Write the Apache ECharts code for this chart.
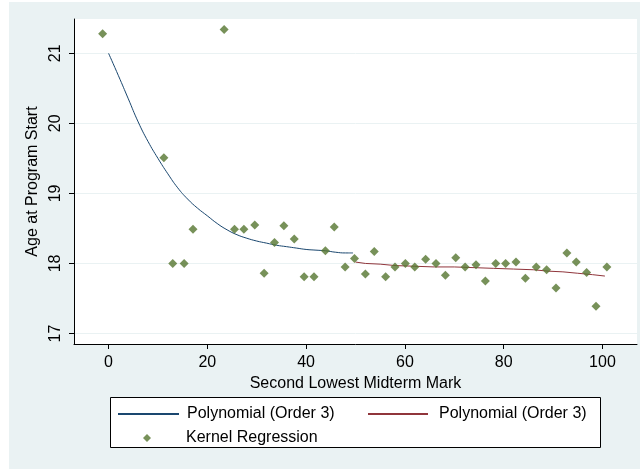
<!DOCTYPE html>
<html>
<head>
<meta charset="utf-8">
<script src="https://cdn.jsdelivr.net/npm/echarts@6/dist/echarts.min.js"></script>
<style>
  html, body { margin: 0; padding: 0; background: #ffffff; }
  #wrap { position: relative; width: 640px; height: 469px; background: #ffffff; }
  #bg { position: absolute; left: 9px; top: 2px; width: 631px; height: 467px; background: #eaf2f3; }
  #chart { position: absolute; left: 0; top: 0; width: 640px; height: 469px; }
</style>
</head>
<body>
<div id="wrap"><div id="bg"></div><div id="chart"></div></div>
<script>
// ---- data ----
const xTicks = [0, 20, 40, 60, 80, 100];
const yTicks = [17, 18, 19, 20, 21];

const kernelX = [-1.2, 11.2, 13.0, 15.3, 17.1, 23.4, 25.5, 27.4, 29.6, 31.5, 33.6, 35.5, 37.6, 39.6, 41.6,
  43.9, 45.7, 47.9, 49.8, 52.0, 53.8, 56.1, 58.0, 60.1, 62.0, 64.2, 66.3, 68.2, 70.3, 72.2, 74.4, 76.3,
  78.4, 80.4, 82.5, 84.4, 86.6, 88.7, 90.6, 92.8, 94.7, 96.8, 98.7, 100.9];
const kernelY = [21.28, 19.51, 18.00, 18.00, 18.49, 21.34, 18.49, 18.49, 18.55, 17.86, 18.30, 18.54, 18.35, 17.81, 17.81,
  18.18, 18.52, 17.95, 18.07, 17.85, 18.17, 17.81, 17.95, 18.00, 17.95, 18.06, 18.00, 17.83, 18.08, 17.95, 17.98, 17.75,
  18.00, 18.00, 18.02, 17.79, 17.95, 17.91, 17.65, 18.15, 18.02, 17.87, 17.39, 17.95];

const polyLowX = [0, 2, 4, 6, 8, 10, 12, 14, 16, 18, 20, 22, 24, 26, 28, 30, 32, 34, 36, 38, 40, 42, 44, 46, 48, 49.5];
const polyLowY = [21.0, 20.68, 20.35, 20.02, 19.74, 19.50, 19.28, 19.08, 18.92, 18.79, 18.68, 18.57, 18.48, 18.41, 18.36,
  18.32, 18.29, 18.26, 18.24, 18.22, 18.20, 18.19, 18.18, 18.16, 18.15, 18.15];

const polyHighX = [50, 52, 55, 58, 62, 66, 70, 74, 78, 82, 86, 89, 92, 95, 98, 100.5];
const polyHighY = [18.02, 18.00, 17.99, 17.97, 17.96, 17.95, 17.95, 17.94, 17.93, 17.92, 17.91, 17.89, 17.88, 17.86, 17.84, 17.82];

const legendLabel = 'Polynomial (Order 3)';
const kernelLabel = 'Kernel Regression';
const xName = 'Second Lowest Midterm Mark';
const yName = 'Age at Program Start';

// ---- chart ----
const zip = (xs, ys) => xs.map((x, i) => [x, ys[i]]);
const FONT = "'Liberation Sans', Arial, sans-serif";
const chart = echarts.init(document.getElementById('chart'), null, { renderer: 'canvas' });

const legendText = { fontFamily: FONT, fontSize: 16, color: '#000',
  rich: { g3: { width: 3 }, g6: { width: 6 }, g30: { width: 30 } } };

chart.setOption({
  animation: false,
  textStyle: { fontFamily: FONT },
  grid: { left: 74, right: 3, top: 19, bottom: 125, show: true, backgroundColor: '#ffffff', borderWidth: 0 },
  xAxis: {
    type: 'value', min: -7, max: 107,
    name: xName, nameLocation: 'middle', nameGap: 19,
    nameTextStyle: { fontFamily: FONT, fontSize: 16, color: '#000' },
    axisLine: { show: true, onZero: false, lineStyle: { color: '#000', width: 1 } },
    axisTick: { show: true, length: 5, lineStyle: { color: '#000' }, customValues: xTicks },
    axisLabel: { fontFamily: FONT, fontSize: 16, color: '#000', margin: 11, customValues: xTicks },
    splitLine: { show: false }
  },
  yAxis: {
    type: 'value', min: 16.85, max: 21.49,
    name: yName, nameLocation: 'middle', nameGap: 20, nameRotate: 90,
    nameTextStyle: { fontFamily: FONT, fontSize: 16, color: '#000' },
    axisLine: { show: true, onZero: false, lineStyle: { color: '#000', width: 1 } },
    axisTick: { show: true, length: 5, lineStyle: { color: '#000' }, customValues: yTicks },
    axisLabel: { fontFamily: FONT, fontSize: 16, color: '#000', rotate: 90, margin: 10, customValues: yTicks },
    splitLine: { show: true, lineStyle: { color: '#eaf2f3', width: 1 } }
  },
  legend: [
    { data: ['polyLow'], left: 117, top: 406, padding: 0, itemWidth: 61, itemHeight: 14, selectedMode: false,
      itemStyle: { opacity: 0 }, formatter: () => '{g3| }' + legendLabel, textStyle: legendText },
    { data: ['polyHigh'], left: 367, top: 406, padding: 0, itemWidth: 60, itemHeight: 14, selectedMode: false,
      itemStyle: { opacity: 0 }, formatter: () => '{g6| }' + legendLabel, textStyle: legendText },
    { data: ['kernel'], left: 143, top: 430, padding: 0, itemWidth: 8, itemHeight: 8, selectedMode: false,
      formatter: () => '{g30| }' + kernelLabel, textStyle: legendText }
  ],
  graphic: [
    { type: 'rect', left: 110, top: 397, shape: { width: 490, height: 50 }, z: 1,
      style: { fill: '#ffffff', stroke: '#000000', lineWidth: 1 } }
  ],
  series: [
    { name: 'polyLow', type: 'line', data: zip(polyLowX, polyLowY), symbol: 'none', smooth: 0.5,
      lineStyle: { color: '#1a476f', width: 1 }, itemStyle: { color: '#1a476f' }, z: 2 },
    { name: 'polyHigh', type: 'line', data: zip(polyHighX, polyHighY), symbol: 'none', smooth: false,
      lineStyle: { color: '#90353b', width: 1 }, itemStyle: { color: '#90353b' }, z: 2 },
    { name: 'kernel', type: 'scatter', data: zip(kernelX, kernelY), symbol: 'diamond', symbolSize: 9,
      itemStyle: { color: '#55752f' }, z: 3 }
  ]
});
</script>
</body>
</html>
